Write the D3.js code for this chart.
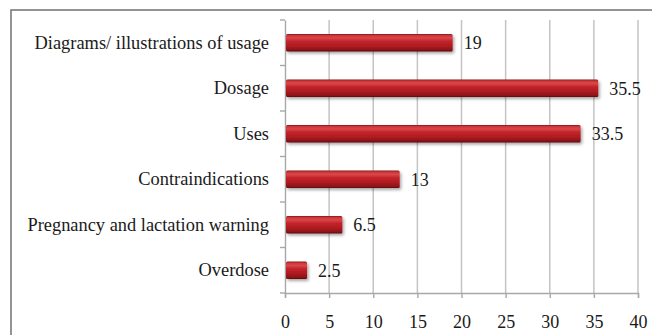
<!DOCTYPE html>
<html><head><meta charset="utf-8">
<script src="https://cdn.jsdelivr.net/npm/d3@7"></script>
<style>
html,body{margin:0;padding:0;background:#fff;}
svg{display:block;}
</style></head>
<body><svg id="c" width="652" height="335"></svg>
<script>
const categories = ["Diagrams/ illustrations of usage","Dosage","Uses","Contraindications","Pregnancy and lactation warning","Overdose"];
const values = [19, 35.5, 33.5, 13, 6.5, 2.5];
const valueLabels = ["19","35.5","33.5","13","6.5","2.5"];
const xTicks = [0,5,10,15,20,25,30,35,40];

const FONT = "'Liberation Serif'";
const svg = d3.select("#c");
const pL = 285, pR = 638, pT = 20, pB = 293;

// outer frame
svg.append("rect").attr("x",11).attr("y",10).attr("width",660).attr("height",340)
  .attr("fill","none").attr("stroke","#7a7a7a").attr("stroke-width",1.6);

const defs = svg.append("defs");
const g = defs.append("linearGradient").attr("id","bar").attr("x1",0).attr("y1",0).attr("x2",0).attr("y2",1);
[[0,"#8e1418"],[0.08,"#c8383b"],[0.22,"#dc4548"],[0.42,"#c2242a"],[0.75,"#a8191f"],[0.92,"#861218"],[1,"#5e0b0e"]]
  .forEach(([o,c])=>g.append("stop").attr("offset",o).attr("stop-color",c));
const f = defs.append("filter").attr("id","sh").attr("x","-10%").attr("y","-30%").attr("width","130%").attr("height","180%");
f.append("feDropShadow").attr("dx",1.5).attr("dy",2).attr("stdDeviation",1.4).attr("flood-color","#000").attr("flood-opacity",0.35);

const x = d3.scaleLinear().domain([0,40]).range([pL,pR]);
const y = d3.scaleBand().domain(categories).range([pT,pB]).paddingInner(0.62).paddingOuter(0.31);

// gridlines
svg.append("g").selectAll("line").data(xTicks.slice(1)).join("line")
  .attr("x1",d=>x(d)).attr("x2",d=>x(d)).attr("y1",pT).attr("y2",pB)
  .attr("stroke","#c4c4c4").attr("stroke-width",1.5);

// x axis
const xa = svg.append("g").attr("transform",`translate(0,${pB})`)
  .call(d3.axisBottom(x).tickValues(xTicks).tickSize(5).tickPadding(17).tickFormat(d3.format("d")));
xa.attr("font-family",null).attr("font-size",null);
xa.select(".domain").attr("stroke","#a8a8a8").attr("stroke-width",1.4);
xa.selectAll(".tick line").attr("stroke","#a8a8a8").attr("stroke-width",1.4);
xa.selectAll("text").style("font-family",FONT).style("font-size","18px").attr("fill","#1a1a1a");

// y axis
const ya = svg.append("g").attr("transform",`translate(${pL},0)`)
  .call(d3.axisLeft(y).tickSize(0).tickPadding(16));
ya.attr("font-family",null).attr("font-size",null);
ya.select(".domain").attr("stroke","#a8a8a8").attr("stroke-width",1.4);
ya.selectAll("text").style("font-family",FONT).style("font-size","18.4px").attr("fill","#1a1a1a");
// boundary ticks
const bounds = d3.range(categories.length+1).map(i=>pT + i*(pB-pT)/categories.length);
svg.append("g").selectAll("line").data(bounds).join("line")
  .attr("x1",pL-5).attr("x2",pL).attr("y1",d=>d).attr("y2",d=>d)
  .attr("stroke","#a8a8a8").attr("stroke-width",1.4);

// bars
svg.append("g").selectAll("rect").data(values).join("rect")
  .attr("x",x(0)+1).attr("y",(d,i)=>y(categories[i]))
  .attr("width",d=>x(d)-x(0)-1).attr("height",y.bandwidth())
  .attr("rx",1.5).attr("fill","url(#bar)").attr("filter","url(#sh)");

// value labels
svg.append("g").selectAll("text").data(values).join("text")
  .attr("x",d=>x(d)+11).attr("y",(d,i)=>y(categories[i])+y.bandwidth()/2)
  .attr("dy","0.35em").style("font-family",FONT).style("font-size","18px").attr("fill","#1a1a1a")
  .text((d,i)=>valueLabels[i]);
</script></body></html>
